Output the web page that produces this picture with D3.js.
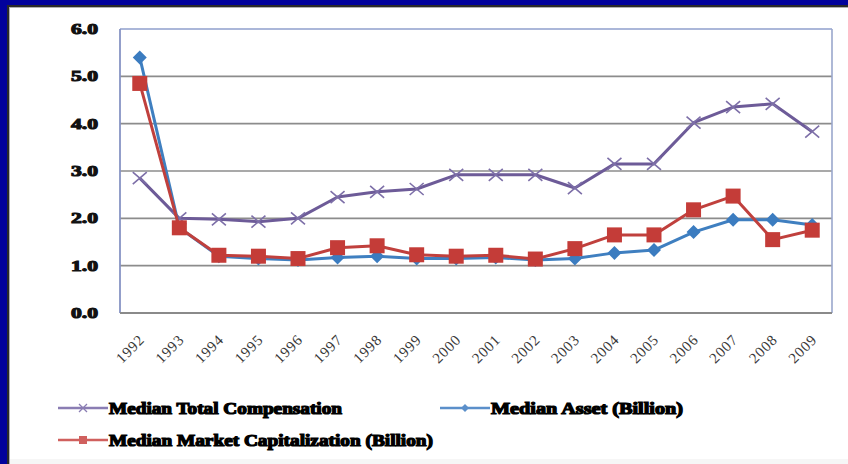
<!DOCTYPE html>
<html>
<head>
<meta charset="utf-8">
<script src="https://cdn.jsdelivr.net/npm/d3@7"></script>
<style>
  html, body { margin: 0; padding: 0; background: #ffffff; }
  svg { display: block; }
</style>
</head>
<body>
<svg id="chart" width="848" height="464"></svg>
<script>
// Medians by year, 1992–2009
const years = ["1992","1993","1994","1995","1996","1997","1998","1999","2000",
               "2001","2002","2003","2004","2005","2006","2007","2008","2009"];
const totalCompensation = [2.85, 2.0, 1.98, 1.93, 2.0, 2.45, 2.56, 2.62, 2.92,
                           2.92, 2.92, 2.64, 3.15, 3.15, 4.02, 4.35, 4.42, 3.83];
const medianAsset = [5.4, 1.8, 1.2, 1.15, 1.12, 1.17, 1.2, 1.15, 1.15,
                     1.17, 1.12, 1.15, 1.27, 1.33, 1.71, 1.97, 1.97, 1.86];
const marketCap = [4.85, 1.8, 1.22, 1.2, 1.15, 1.38, 1.42, 1.23, 1.2,
                   1.22, 1.14, 1.36, 1.65, 1.65, 2.18, 2.47, 1.55, 1.75];
const yTicks = [0, 1, 2, 3, 4, 5, 6];

const seriesNames = ["Median Total Compensation", "Median Asset (Billion)",
                     "Median Market Capitalization (Billion)"];

const svg = d3.select("#chart");
const W = 848, H = 464;
const plot = { left: 120, right: 832, top: 29, bottom: 313 };

// Frame: dark blue band on top and left with a dark shadow edge
svg.append("rect").attr("x", 0).attr("y", 0).attr("width", W).attr("height", H).attr("fill", "#ffffff");
svg.append("rect").attr("x", 0).attr("y", 0).attr("width", W).attr("height", 5).attr("fill", "#02029c");
svg.append("rect").attr("x", 0).attr("y", 0).attr("width", 7).attr("height", H).attr("fill", "#02029c");
svg.append("rect").attr("x", 7).attr("y", 5).attr("width", W - 7).attr("height", 2).attr("fill", "#2a2a2a");
svg.append("rect").attr("x", 7).attr("y", 5).attr("width", 2).attr("height", H - 5).attr("fill", "#2a2a2a");
svg.append("rect").attr("x", 9).attr("y", 7).attr("width", W - 9).attr("height", 1).attr("fill", "#b0b0b0");
svg.append("rect").attr("x", 9).attr("y", 7).attr("width", 1).attr("height", H - 7).attr("fill", "#b0b0b0");
svg.append("rect").attr("x", 10).attr("y", H - 5).attr("width", W - 10).attr("height", 5).attr("fill", "#f6f6f6");

const x = d3.scaleBand().domain(years).range([plot.left, plot.right]).padding(0);
const y = d3.scaleLinear().domain([0, 6]).range([plot.bottom, plot.top]);
const cx = d => x(d) + x.bandwidth() / 2;

// Horizontal gridlines
svg.append("g")
  .selectAll("line").data(yTicks.filter(t => t > 0 && t < 6)).join("line")
  .attr("x1", plot.left).attr("x2", plot.right)
  .attr("y1", d => y(d)).attr("y2", d => y(d))
  .attr("stroke", "#8c8c8c").attr("stroke-width", 1.6);

// Plot area border
svg.append("line").attr("x1", plot.left).attr("x2", plot.right).attr("y1", y(6)).attr("y2", y(6))
  .attr("stroke", "#8f9fcc").attr("stroke-width", 1.6);
svg.append("line").attr("x1", plot.right).attr("x2", plot.right).attr("y1", plot.top).attr("y2", plot.bottom)
  .attr("stroke", "#9aa7cc").attr("stroke-width", 1.6);
svg.append("line").attr("x1", plot.left).attr("x2", plot.left).attr("y1", plot.top).attr("y2", plot.bottom)
  .attr("stroke", "#8794c4").attr("stroke-width", 1.8);
svg.append("line").attr("x1", plot.left).attr("x2", plot.right).attr("y1", y(0)).attr("y2", y(0))
  .attr("stroke", "#8a8a8a").attr("stroke-width", 1.8);

// Y axis labels
const yAxis = d3.axisLeft(y).tickValues(yTicks).tickFormat(d3.format(".1f")).tickSize(0).tickPadding(22);
const gy = svg.append("g").attr("transform", `translate(${plot.left},0)`).call(yAxis);
gy.select(".domain").remove();
gy.selectAll("text")
  .attr("font-family", "'Liberation Serif', serif")
  .attr("font-size", 14).attr("font-weight", "bold")
  .attr("fill", "#111").attr("stroke", "#111").attr("stroke-width", 1)
  .attr("textLength", 27).attr("lengthAdjust", "spacingAndGlyphs");

// X axis labels, rotated
const xAxis = d3.axisBottom(x).tickSize(0).tickPadding(0);
const gx = svg.append("g").attr("transform", `translate(0,${plot.bottom})`).call(xAxis);
gx.select(".domain").remove();
gx.selectAll("text")
  .attr("font-family", "'Liberation Serif', serif")
  .attr("font-size", 15)
  .attr("fill", "#3a3a3a")
  .attr("letter-spacing", "0.8px")
  .attr("text-anchor", "end")
  .attr("transform", "translate(2,24) rotate(-45)")
  .attr("dy", "0.35em").attr("y", 0);

const line = d3.line().x((d, i) => cx(years[i])).y(d => y(d));

// Median Total Compensation — purple with X markers
svg.append("path").datum(totalCompensation)
  .attr("d", line).attr("fill", "none")
  .attr("stroke", "#6d5b98").attr("stroke-width", 3).attr("stroke-linejoin", "round");
svg.append("g").selectAll("path").data(totalCompensation).join("path")
  .attr("transform", (d, i) => `translate(${cx(years[i])},${y(d)})`)
  .attr("d", "M-7,-6L7,6M-7,6L7,-6")
  .attr("stroke", "#7d6fa8").attr("stroke-width", 1.6).attr("fill", "none");

// Median Asset — blue with diamond markers
svg.append("path").datum(medianAsset)
  .attr("d", line).attr("fill", "none")
  .attr("stroke", "#3f7fc0").attr("stroke-width", 3).attr("stroke-linejoin", "round");
svg.append("g").selectAll("path").data(medianAsset).join("path")
  .attr("transform", (d, i) => `translate(${cx(years[i])},${y(d)})`)
  .attr("d", "M0,-7L7,0L0,7L-7,0Z")
  .attr("fill", "#3b7cc0");

// Median Market Capitalization — red with square markers
svg.append("path").datum(marketCap)
  .attr("d", line).attr("fill", "none")
  .attr("stroke", "#c0403d").attr("stroke-width", 3).attr("stroke-linejoin", "round");
svg.append("g").selectAll("rect").data(marketCap).join("rect")
  .attr("x", (d, i) => cx(years[i]) - 7.5).attr("y", d => y(d) - 7.5)
  .attr("width", 15).attr("height", 15)
  .attr("fill", "#c43c38");

// Legend
const legendItems = [
  { name: seriesNames[0], color: "#8a7db3", marker: "x", x: 58, y: 408, w: 233 },
  { name: seriesNames[1], color: "#5b8fca", marker: "diamond", x: 440, y: 408, w: 192 },
  { name: seriesNames[2], color: "#d0605e", marker: "square", x: 58, y: 440, w: 324 }
];
const lg = svg.append("g").selectAll("g").data(legendItems).join("g")
  .attr("transform", d => `translate(${d.x},${d.y})`);
lg.append("line").attr("x1", 0).attr("x2", 50).attr("y1", 0).attr("y2", 0)
  .attr("stroke", d => d.color).attr("stroke-width", 2.5);
lg.each(function(d) {
  const g = d3.select(this);
  if (d.marker === "x") {
    g.append("path").attr("d", "M21,-4L29,4M21,4L29,-4").attr("stroke", d.color).attr("stroke-width", 1.3);
  } else if (d.marker === "diamond") {
    g.append("path").attr("d", "M25,-4L29,0L25,4L21,0Z").attr("fill", d.color);
  } else {
    g.append("rect").attr("x", 21).attr("y", -4).attr("width", 8).attr("height", 8).attr("fill", d.color);
  }
});
lg.append("text")
  .attr("x", 51).attr("y", 0).attr("dy", "0.35em")
  .attr("font-family", "'Liberation Serif', serif")
  .attr("font-size", 16).attr("font-weight", "bold")
  .attr("fill", "#000").attr("stroke", "#000").attr("stroke-width", 1.2)
  .attr("textLength", d => d.w).attr("lengthAdjust", "spacingAndGlyphs")
  .text(d => d.name);
</script>
</body>
</html>
